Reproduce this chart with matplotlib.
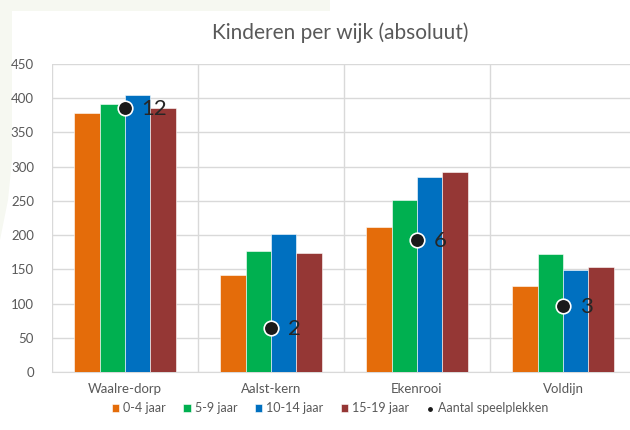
import matplotlib
matplotlib.use("Agg")
from matplotlib import pyplot as plt
from matplotlib.patches import Polygon
import numpy as np

plt.rcParams['font.family'] = ['Lato', 'DejaVu Sans']

# data
wijken = ["Waalre-dorp", "Aalst-kern", "Ekenrooi", "Voldijn"]
jaar_0_4 = [379, 141, 212, 125]
jaar_5_9 = [391, 177, 252, 173]
jaar_10_14 = [405, 201, 285, 149]
jaar_15_19 = [386, 174, 292, 153]
speelplekken = [12, 2, 6, 3]

series = [jaar_0_4, jaar_5_9, jaar_10_14, jaar_15_19]
labels = ["0-4 jaar", "5-9 jaar", "10-14 jaar", "15-19 jaar"]
colors = ["#E46C0A", "#00B050", "#0070C0", "#953735"]

fig = plt.figure(figsize=(6.3, 4.3), dpi=100, facecolor="white")

# faint decorative background corner
bg = Polygon([(0, 1), (330/630, 1), (330/630, 1-11/430), (12/630, 1-11/430),
              (12/630, 1-160/430), (8/630, 1-200/430), (0, 1-240/430)],
             closed=True, transform=fig.transFigure, facecolor="#f6f8f1",
             edgecolor="none", zorder=-10)
fig.patches.append(bg)

ax = fig.add_axes([52/630, 58/430, 584/630, 308/430])
ax.set_facecolor("white")

x = np.arange(len(wijken))
w = 0.173
for i, (vals, lab, col) in enumerate(zip(series, labels, colors)):
    ax.bar(x + (i - 1.5)*w, vals, width=w, color=col, label=lab,
           edgecolor="white", linewidth=0.4, zorder=3)

ax.set_xlim(-0.5, 3.5)
ax.set_ylim(0, 450)
ax.set_yticks(np.arange(0, 451, 50))
ax.set_xticks(x)
ax.set_xticklabels(wijken)
ax.set_xticks(np.arange(-0.5, 3.6, 0.5), minor=True)
ax.grid(axis="y", color="#d9d9d9", linewidth=1, zorder=0)
ax.grid(axis="x", which="minor", color="#d9d9d9", linewidth=1, zorder=0)
ax.tick_params(axis="both", which="both", length=0, labelsize=9.5, colors="#595959")
ax.tick_params(axis="x", pad=8)
ax.tick_params(axis="y", pad=13)
for s in ["top", "right", "left"]:
    ax.spines[s].set_visible(False)
ax.spines["bottom"].set_color("#d9d9d9")

# second axis for the number of playgrounds
ax2 = ax.twinx()
ax2.set_ylim(0, 14)
ax2.set_yticks([])
for s in ax2.spines.values():
    s.set_visible(False)
ax2.scatter(x, speelplekken, s=110, color="#1a1a1a", edgecolor="white",
            linewidth=1.2, zorder=5, label="Aantal speelplekken")
for xi, v in zip(x, speelplekken):
    ax2.annotate(str(v), (xi, v), xytext=(12, -1), textcoords="offset points",
                 va="center", ha="left", fontsize=16, color="#262626")

fig.text(340/630, 1-33/430, "Kinderen per wijk (absoluut)", ha="center", va="center",
         fontsize=15, color="#595959")

h1, l1 = ax.get_legend_handles_labels()
h2, l2 = ax2.get_legend_handles_labels()
leg = fig.legend(h1 + h2, l1 + l2, loc="center", bbox_to_anchor=(330/630, 1-408/430),
                 ncol=5, frameon=False, fontsize=9, handlelength=0.6, handleheight=0.6,
                 handletextpad=0.3, columnspacing=1.4, labelcolor="#595959",
                 markerscale=0.45)

fig.savefig("out.png", dpi=100, facecolor="white")
